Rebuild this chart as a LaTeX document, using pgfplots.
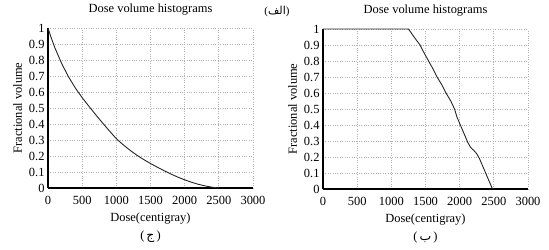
\documentclass[border=0pt]{standalone}
\usepackage{fontspec}
\setmainfont{Liberation Serif}
\newfontfamily\arabicfont[Script=Arabic]{DejaVu Sans}
\TeXXeTstate=1
\usepackage{pgfplots}
\pgfplotsset{compat=1.18}
\begin{document}
\begin{tikzpicture}
\path[use as bounding box] (0bp,0bp) rectangle (549bp,250bp);
\pgfplotsset{dvh/.style={
  scale only axis, width=205bp, height=160bp, anchor=south west,
  xmin=0, xmax=3000, ymin=0, ymax=1,
  axis x line=bottom, axis y line=left,
  axis line style={-, line width=1.3bp, black},
  xtick={0,500,...,3000},
  ytick={0,0.1,0.2,0.3,0.4,0.5,0.6,0.7,0.8,0.9,1},
  yticklabels={0,0.1,0.2,0.3,0.4,0.5,0.6,0.7,0.8,0.9,1},
  major tick length=0pt,
  xmajorgrids, ymajorgrids,
  grid style={dotted, gray!60, line width=0.7bp},
  /pgf/number format/1000 sep={},
  /pgf/number format/assume math mode=true,
  font=\fontsize{12.5}{14}\selectfont,
  tick label style={font=\fontsize{12.5}{14}\selectfont},
  xticklabel style={yshift=-5bp},
  title={Dose volume histograms},
  title style={at={(axis description cs:0.5,1.075)}, anchor=center},
  xlabel={Dose(centigray)},
  xlabel style={at={(axis description cs:0.5,-0.19)}, anchor=center},
  ylabel={Fractional volume},
  ylabel style={at={(axis description cs:-0.148,0.5)}, anchor=center},
  clip=false,
}}
\begin{axis}[dvh, at={(48bp,62bp)}]
\addplot[black!85, line width=0.9bp] coordinates {
(0,1) (50,0.935) (100,0.877) (200,0.778) (300,0.695) (400,0.625) (500,0.565)
(600,0.51) (700,0.457) (800,0.406) (900,0.356) (1000,0.308) (1100,0.27)
(1200,0.236) (1300,0.205) (1400,0.178) (1500,0.153) (1600,0.13) (1700,0.108)
(1800,0.087) (1900,0.068) (2000,0.051) (2100,0.036) (2200,0.023) (2300,0.013)
(2400,0.005) (2500,0)
};
\node at (axis description cs:0.5,-0.306) {(\,{\arabicfont\beginR ج\endR}\,)};
\end{axis}
\begin{axis}[dvh, at={(323bp,61bp)}]
\addplot[black!85, line width=0.9bp] coordinates {
(0,1) (1250,1) (1300,0.97) (1350,0.94) (1420,0.9) (1480,0.85) (1545,0.8)
(1610,0.75) (1670,0.7) (1740,0.65) (1800,0.6) (1870,0.55) (1925,0.5)
(1960,0.45) (2010,0.4) (2060,0.35) (2120,0.29) (2160,0.26) (2210,0.24)
(2250,0.22) (2290,0.19) (2330,0.15) (2370,0.11) (2400,0.08) (2440,0.04) (2480,0)
};
\node at (axis description cs:0.5,-0.306) {(\,{\arabicfont\beginR ب\endR}\,)};
\end{axis}
\node[font=\fontsize{11}{13}\selectfont] at (277bp,238bp) {({\arabicfont\beginR الف\endR})};
\end{tikzpicture}
\end{document}
